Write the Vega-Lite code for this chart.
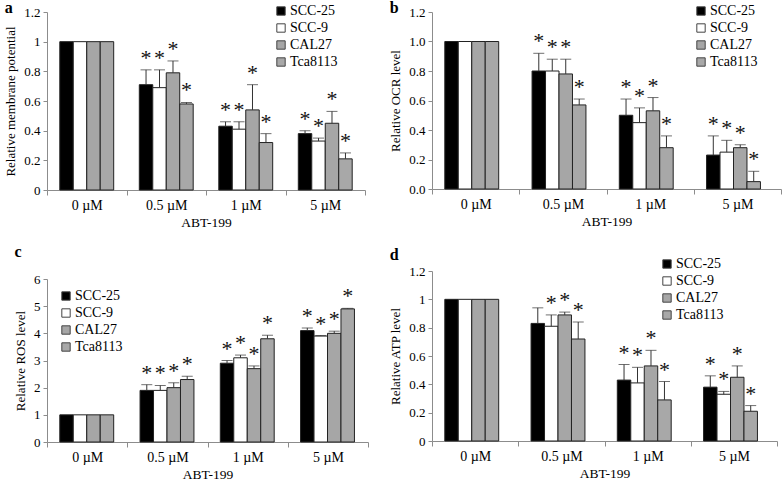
{
  "$schema": "https://vega.github.io/schema/vega-lite/v6.json",
  "padding": {"left": 4, "top": 0, "right": 0, "bottom": 0},
  "background": "white",
  "config": {
    "font": "Liberation Serif",
    "view": {"stroke": null},
    "axis": {"labelFont": "Liberation Serif", "titleFont": "Liberation Serif", "labelColor": "black", "titleColor": "black", "titleFontWeight": "normal", "domainColor": "#8c8c8c", "tickColor": "#8c8c8c", "grid": false, "labelOverlap": false},
    "axisX": {"labelFontSize": 14, "titleFontSize": 13.5, "labelAngle": 0, "tickBand": "extent", "tickSize": 5, "labelPadding": 3, "titlePadding": 3},
    "axisY": {"labelFontSize": 13, "titleFontSize": 13, "tickSize": 4, "labelPadding": 3, "titlePadding": 6},
    "legend": {"labelFont": "Liberation Serif", "labelFontSize": 14, "labelColor": "black", "symbolType": "square", "symbolSize": 70, "symbolStrokeColor": "#444", "symbolStrokeWidth": 1, "labelOffset": 2, "rowPadding": 3, "padding": 0, "title": null, "orient": "none"},
    "title": {"font": "Liberation Serif", "fontWeight": "bold", "fontSize": 16, "anchor": "start", "frame": "bounds", "color": "black"},
    "text": {"font": "Liberation Serif"}
  },
  "datasets": {
    "a": [
      {"dose": "0 µM", "line": "SCC-25", "value": 1, "top": 1, "sig": ""},
      {"dose": "0 µM", "line": "SCC-9", "value": 1, "top": 1, "sig": ""},
      {"dose": "0 µM", "line": "CAL27", "value": 1, "top": 1, "sig": ""},
      {"dose": "0 µM", "line": "Tca8113", "value": 1, "top": 1, "sig": ""},
      {"dose": "0.5 µM", "line": "SCC-25", "value": 0.71, "top": 0.81, "sig": "*"},
      {"dose": "0.5 µM", "line": "SCC-9", "value": 0.69, "top": 0.81, "sig": "*"},
      {"dose": "0.5 µM", "line": "CAL27", "value": 0.79, "top": 0.87, "sig": "*"},
      {"dose": "0.5 µM", "line": "Tca8113", "value": 0.58, "top": 0.59, "sig": "*"},
      {"dose": "1 µM", "line": "SCC-25", "value": 0.43, "top": 0.46, "sig": "*"},
      {"dose": "1 µM", "line": "SCC-9", "value": 0.41, "top": 0.46, "sig": "*"},
      {"dose": "1 µM", "line": "CAL27", "value": 0.54, "top": 0.71, "sig": "*"},
      {"dose": "1 µM", "line": "Tca8113", "value": 0.32, "top": 0.38, "sig": "*"},
      {"dose": "5 µM", "line": "SCC-25", "value": 0.38, "top": 0.40, "sig": "*"},
      {"dose": "5 µM", "line": "SCC-9", "value": 0.33, "top": 0.35, "sig": "*"},
      {"dose": "5 µM", "line": "CAL27", "value": 0.45, "top": 0.53, "sig": "*"},
      {"dose": "5 µM", "line": "Tca8113", "value": 0.21, "top": 0.25, "sig": "*"}
    ],
    "b": [
      {"dose": "0 µM", "line": "SCC-25", "value": 1, "top": 1, "sig": ""},
      {"dose": "0 µM", "line": "SCC-9", "value": 1, "top": 1, "sig": ""},
      {"dose": "0 µM", "line": "CAL27", "value": 1, "top": 1, "sig": ""},
      {"dose": "0 µM", "line": "Tca8113", "value": 1, "top": 1, "sig": ""},
      {"dose": "0.5 µM", "line": "SCC-25", "value": 0.80, "top": 0.92, "sig": "*"},
      {"dose": "0.5 µM", "line": "SCC-9", "value": 0.80, "top": 0.88, "sig": "*"},
      {"dose": "0.5 µM", "line": "CAL27", "value": 0.78, "top": 0.88, "sig": "*"},
      {"dose": "0.5 µM", "line": "Tca8113", "value": 0.57, "top": 0.61, "sig": "*"},
      {"dose": "1 µM", "line": "SCC-25", "value": 0.50, "top": 0.61, "sig": "*"},
      {"dose": "1 µM", "line": "SCC-9", "value": 0.45, "top": 0.55, "sig": "*"},
      {"dose": "1 µM", "line": "CAL27", "value": 0.53, "top": 0.62, "sig": "*"},
      {"dose": "1 µM", "line": "Tca8113", "value": 0.28, "top": 0.36, "sig": "*"},
      {"dose": "5 µM", "line": "SCC-25", "value": 0.23, "top": 0.36, "sig": "*"},
      {"dose": "5 µM", "line": "SCC-9", "value": 0.25, "top": 0.33, "sig": "*"},
      {"dose": "5 µM", "line": "CAL27", "value": 0.28, "top": 0.30, "sig": "*"},
      {"dose": "5 µM", "line": "Tca8113", "value": 0.05, "top": 0.12, "sig": "*"}
    ],
    "c": [
      {"dose": "0 µM", "line": "SCC-25", "value": 1, "top": 1, "sig": ""},
      {"dose": "0 µM", "line": "SCC-9", "value": 1, "top": 1, "sig": ""},
      {"dose": "0 µM", "line": "CAL27", "value": 1, "top": 1, "sig": ""},
      {"dose": "0 µM", "line": "Tca8113", "value": 1, "top": 1, "sig": ""},
      {"dose": "0.5 µM", "line": "SCC-25", "value": 1.9, "top": 2.11, "sig": "*"},
      {"dose": "0.5 µM", "line": "SCC-9", "value": 1.9, "top": 2.08, "sig": "*"},
      {"dose": "0.5 µM", "line": "CAL27", "value": 2.0, "top": 2.18, "sig": "*"},
      {"dose": "0.5 µM", "line": "Tca8113", "value": 2.3, "top": 2.42, "sig": "*"},
      {"dose": "1 µM", "line": "SCC-25", "value": 2.9, "top": 3.0, "sig": "*"},
      {"dose": "1 µM", "line": "SCC-9", "value": 3.1, "top": 3.2, "sig": "*"},
      {"dose": "1 µM", "line": "CAL27", "value": 2.7, "top": 2.8, "sig": "*"},
      {"dose": "1 µM", "line": "Tca8113", "value": 3.8, "top": 3.93, "sig": "*"},
      {"dose": "5 µM", "line": "SCC-25", "value": 4.1, "top": 4.2, "sig": "*"},
      {"dose": "5 µM", "line": "SCC-9", "value": 3.9, "top": 3.92, "sig": "*"},
      {"dose": "5 µM", "line": "CAL27", "value": 4.0, "top": 4.08, "sig": "*"},
      {"dose": "5 µM", "line": "Tca8113", "value": 4.9, "top": 4.92, "sig": "*"}
    ],
    "d": [
      {"dose": "0 µM", "line": "SCC-25", "value": 1, "top": 1, "sig": ""},
      {"dose": "0 µM", "line": "SCC-9", "value": 1, "top": 1, "sig": ""},
      {"dose": "0 µM", "line": "CAL27", "value": 1, "top": 1, "sig": ""},
      {"dose": "0 µM", "line": "Tca8113", "value": 1, "top": 1, "sig": ""},
      {"dose": "0.5 µM", "line": "SCC-25", "value": 0.83, "top": 0.94, "sig": ""},
      {"dose": "0.5 µM", "line": "SCC-9", "value": 0.81, "top": 0.89, "sig": "*"},
      {"dose": "0.5 µM", "line": "CAL27", "value": 0.89, "top": 0.91, "sig": "*"},
      {"dose": "0.5 µM", "line": "Tca8113", "value": 0.72, "top": 0.84, "sig": "*"},
      {"dose": "1 µM", "line": "SCC-25", "value": 0.43, "top": 0.54, "sig": "*"},
      {"dose": "1 µM", "line": "SCC-9", "value": 0.41, "top": 0.52, "sig": "*"},
      {"dose": "1 µM", "line": "CAL27", "value": 0.53, "top": 0.64, "sig": "*"},
      {"dose": "1 µM", "line": "Tca8113", "value": 0.29, "top": 0.42, "sig": "*"},
      {"dose": "5 µM", "line": "SCC-25", "value": 0.38, "top": 0.46, "sig": "*"},
      {"dose": "5 µM", "line": "SCC-9", "value": 0.33, "top": 0.35, "sig": "*"},
      {"dose": "5 µM", "line": "CAL27", "value": 0.45, "top": 0.53, "sig": "*"},
      {"dose": "5 µM", "line": "Tca8113", "value": 0.21, "top": 0.25, "sig": "*"}
    ]
  },
  "resolve": {"scale": {"fill": "independent"}, "legend": {"fill": "independent"}},
  "spacing": 20,
  "hconcat": [
    {
      "spacing": 15,
      "resolve": {"scale": {"fill": "independent"}, "legend": {"fill": "independent"}},
      "vconcat": [
        {
          "width": 318, "height": 178,
          "title": {"text": "a", "offset": -12},
          "data": {"name": "a"},
          "encoding": {
            "x": {"field": "dose", "type": "nominal", "sort": ["0 µM", "0.5 µM", "1 µM", "5 µM"], "scale": {"paddingInner": 0, "paddingOuter": 0}, "title": "ABT-199"},
            "xOffset": {"field": "line", "type": "nominal", "sort": ["SCC-25", "SCC-9", "CAL27", "Tca8113"], "scale": {"paddingInner": 0, "paddingOuter": 0.95}}
          },
          "layer": [
            {"mark": {"type": "bar", "stroke": "#222", "strokeWidth": 1},
             "encoding": {
               "y": {"field": "value", "type": "quantitative", "scale": {"domain": [0, 1.2]}, "axis": {"values": [0, 0.2, 0.4, 0.6, 0.8, 1, 1.2], "format": ".1~f"}, "title": "Relative membrane potential"},
               "fill": {"field": "line", "type": "nominal", "scale": {"domain": ["SCC-25", "SCC-9", "CAL27", "Tca8113"], "range": ["#000000", "#ffffff", "#a6a6a6", "#a8a8a8"]}, "legend": {"legendX": 227, "legendY": -8, "labelFont": "Liberation Serif"}}
             }},
            {"transform": [{"filter": "datum.top > datum.value"}],
             "mark": {"type": "rule", "color": "#333", "strokeWidth": 1},
             "encoding": {"y": {"field": "value", "type": "quantitative", "axis": {"values": [0, 0.2, 0.4, 0.6, 0.8, 1, 1.2], "format": ".1~f"}, "title": "Relative membrane potential"}, "y2": {"field": "top"}}},
            {"transform": [{"filter": "datum.top > datum.value"}],
             "mark": {"type": "tick", "orient": "horizontal", "size": 11, "thickness": 1, "color": "#333"},
             "encoding": {"y": {"field": "top", "type": "quantitative", "axis": {"values": [0, 0.2, 0.4, 0.6, 0.8, 1, 1.2], "format": ".1~f"}, "title": "Relative membrane potential"}}},
            {"mark": {"type": "text", "font": "Liberation Serif", "fontSize": 22, "baseline": "alphabetic", "dy": -5, "color": "#111"},
             "encoding": {"y": {"field": "top", "type": "quantitative", "axis": {"values": [0, 0.2, 0.4, 0.6, 0.8, 1, 1.2], "format": ".1~f"}, "title": "Relative membrane potential"}, "text": {"field": "sig"}}}
          ]
        },
        {
          "width": 321, "height": 163,
          "title": {"text": "c", "offset": 13},
          "data": {"name": "c"},
          "encoding": {
            "x": {"field": "dose", "type": "nominal", "sort": ["0 µM", "0.5 µM", "1 µM", "5 µM"], "scale": {"paddingInner": 0, "paddingOuter": 0}, "title": "ABT-199"},
            "xOffset": {"field": "line", "type": "nominal", "sort": ["SCC-25", "SCC-9", "CAL27", "Tca8113"], "scale": {"paddingInner": 0, "paddingOuter": 0.95}}
          },
          "layer": [
            {"mark": {"type": "bar", "stroke": "#222", "strokeWidth": 1},
             "encoding": {
               "y": {"field": "value", "type": "quantitative", "scale": {"domain": [0, 6]}, "axis": {"values": [0, 1, 2, 3, 4, 5, 6]}, "title": "Relative ROS level"},
               "fill": {"field": "line", "type": "nominal", "scale": {"domain": ["SCC-25", "SCC-9", "CAL27", "Tca8113"], "range": ["#000000", "#ffffff", "#a6a6a6", "#a8a8a8"]}, "legend": {"legendX": 12, "legendY": 10, "labelFont": "Liberation Serif"}}
             }},
            {"transform": [{"filter": "datum.top > datum.value"}],
             "mark": {"type": "rule", "color": "#333", "strokeWidth": 1},
             "encoding": {"y": {"field": "value", "type": "quantitative", "axis": {"values": [0, 1, 2, 3, 4, 5, 6]}, "title": "Relative ROS level"}, "y2": {"field": "top"}}},
            {"transform": [{"filter": "datum.top > datum.value"}],
             "mark": {"type": "tick", "orient": "horizontal", "size": 11, "thickness": 1, "color": "#333"},
             "encoding": {"y": {"field": "top", "type": "quantitative", "axis": {"values": [0, 1, 2, 3, 4, 5, 6]}, "title": "Relative ROS level"}}},
            {"mark": {"type": "text", "font": "Liberation Serif", "fontSize": 22, "baseline": "alphabetic", "dy": -5, "color": "#111"},
             "encoding": {"y": {"field": "top", "type": "quantitative", "axis": {"values": [0, 1, 2, 3, 4, 5, 6]}, "title": "Relative ROS level"}, "text": {"field": "sig"}}}
          ]
        }
      ]
    },
    {
      "spacing": 19,
      "resolve": {"scale": {"fill": "independent"}, "legend": {"fill": "independent"}},
      "vconcat": [
        {
          "width": 349, "height": 177,
          "title": {"text": "b", "offset": -12},
          "data": {"name": "b"},
          "encoding": {
            "x": {"field": "dose", "type": "nominal", "sort": ["0 µM", "0.5 µM", "1 µM", "5 µM"], "scale": {"paddingInner": 0, "paddingOuter": 0}, "title": "ABT-199"},
            "xOffset": {"field": "line", "type": "nominal", "sort": ["SCC-25", "SCC-9", "CAL27", "Tca8113"], "scale": {"paddingInner": 0, "paddingOuter": 0.8}}
          },
          "layer": [
            {"mark": {"type": "bar", "stroke": "#222", "strokeWidth": 1},
             "encoding": {
               "y": {"field": "value", "type": "quantitative", "scale": {"domain": [0, 1.2]}, "axis": {"values": [0, 0.2, 0.4, 0.6, 0.8, 1, 1.2], "format": ".1f"}, "title": "Relative OCR level"},
               "fill": {"field": "line", "type": "nominal", "scale": {"domain": ["SCC-25", "SCC-9", "CAL27", "Tca8113"], "range": ["#000000", "#ffffff", "#a6a6a6", "#a8a8a8"]}, "legend": {"legendX": 262, "legendY": -8, "labelFont": "Liberation Serif"}}
             }},
            {"transform": [{"filter": "datum.top > datum.value"}],
             "mark": {"type": "rule", "color": "#333", "strokeWidth": 1},
             "encoding": {"y": {"field": "value", "type": "quantitative", "axis": {"values": [0, 0.2, 0.4, 0.6, 0.8, 1, 1.2], "format": ".1f"}, "title": "Relative OCR level"}, "y2": {"field": "top"}}},
            {"transform": [{"filter": "datum.top > datum.value"}],
             "mark": {"type": "tick", "orient": "horizontal", "size": 11, "thickness": 1, "color": "#333"},
             "encoding": {"y": {"field": "top", "type": "quantitative", "axis": {"values": [0, 0.2, 0.4, 0.6, 0.8, 1, 1.2], "format": ".1f"}, "title": "Relative OCR level"}}},
            {"mark": {"type": "text", "font": "Liberation Serif", "fontSize": 22, "baseline": "alphabetic", "dy": -5, "color": "#111"},
             "encoding": {"y": {"field": "top", "type": "quantitative", "axis": {"values": [0, 0.2, 0.4, 0.6, 0.8, 1, 1.2], "format": ".1f"}, "title": "Relative OCR level"}, "text": {"field": "sig"}}}
          ]
        },
        {
          "width": 345, "height": 170,
          "title": {"text": "d", "offset": -6},
          "data": {"name": "d"},
          "encoding": {
            "x": {"field": "dose", "type": "nominal", "sort": ["0 µM", "0.5 µM", "1 µM", "5 µM"], "scale": {"paddingInner": 0, "paddingOuter": 0}, "title": "ABT-199"},
            "xOffset": {"field": "line", "type": "nominal", "sort": ["SCC-25", "SCC-9", "CAL27", "Tca8113"], "scale": {"paddingInner": 0, "paddingOuter": 0.8}}
          },
          "layer": [
            {"mark": {"type": "bar", "stroke": "#222", "strokeWidth": 1},
             "encoding": {
               "y": {"field": "value", "type": "quantitative", "scale": {"domain": [0, 1.2]}, "axis": {"values": [0, 0.2, 0.4, 0.6, 0.8, 1, 1.2], "format": ".1~f"}, "title": "Relative ATP level"},
               "fill": {"field": "line", "type": "nominal", "scale": {"domain": ["SCC-25", "SCC-9", "CAL27", "Tca8113"], "range": ["#000000", "#ffffff", "#a6a6a6", "#a8a8a8"]}, "legend": {"legendX": 228, "legendY": -14, "labelFont": "Liberation Serif"}}
             }},
            {"transform": [{"filter": "datum.top > datum.value"}],
             "mark": {"type": "rule", "color": "#333", "strokeWidth": 1},
             "encoding": {"y": {"field": "value", "type": "quantitative", "axis": {"values": [0, 0.2, 0.4, 0.6, 0.8, 1, 1.2], "format": ".1~f"}, "title": "Relative ATP level"}, "y2": {"field": "top"}}},
            {"transform": [{"filter": "datum.top > datum.value"}],
             "mark": {"type": "tick", "orient": "horizontal", "size": 11, "thickness": 1, "color": "#333"},
             "encoding": {"y": {"field": "top", "type": "quantitative", "axis": {"values": [0, 0.2, 0.4, 0.6, 0.8, 1, 1.2], "format": ".1~f"}, "title": "Relative ATP level"}}},
            {"mark": {"type": "text", "font": "Liberation Serif", "fontSize": 22, "baseline": "alphabetic", "dy": -5, "color": "#111"},
             "encoding": {"y": {"field": "top", "type": "quantitative", "axis": {"values": [0, 0.2, 0.4, 0.6, 0.8, 1, 1.2], "format": ".1~f"}, "title": "Relative ATP level"}, "text": {"field": "sig"}}}
          ]
        }
      ]
    }
  ]
}
